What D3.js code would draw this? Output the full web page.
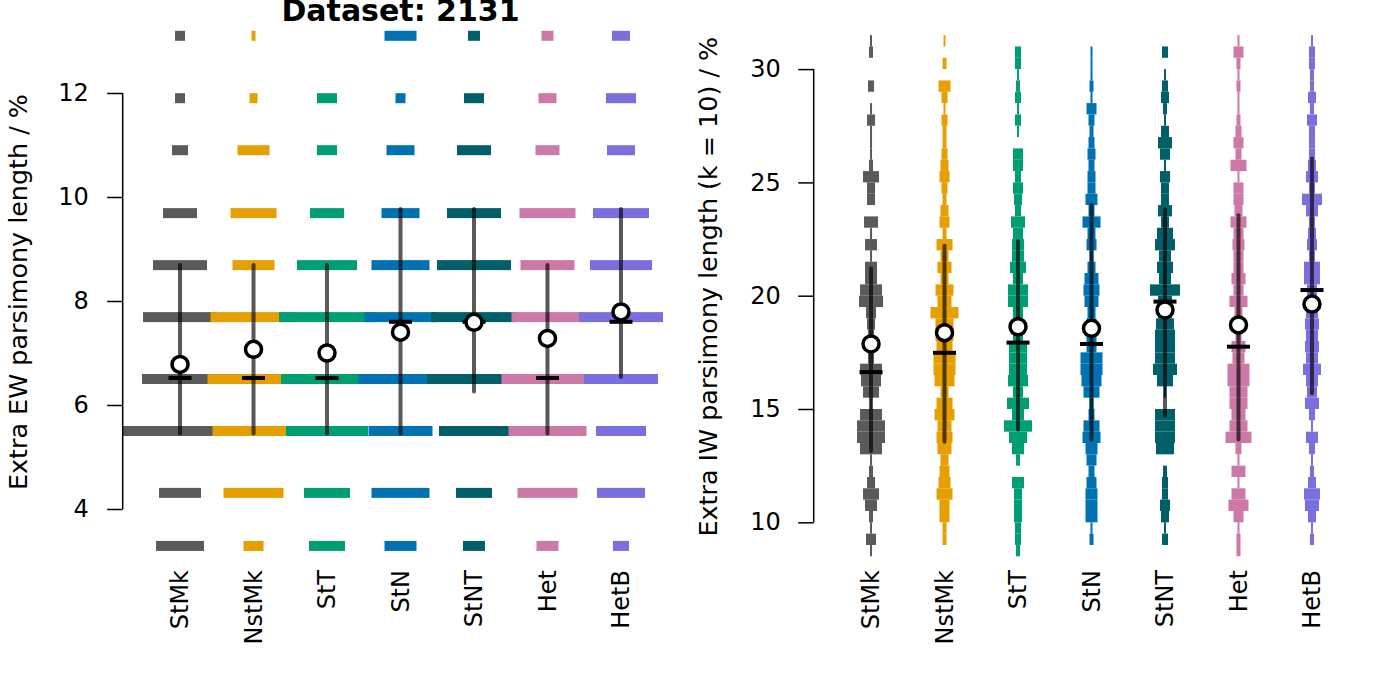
<!DOCTYPE html>
<html><head><meta charset="utf-8">
<script src="https://cdn.jsdelivr.net/npm/d3@7"></script>
<style>html,body{margin:0;padding:0;background:#fff;}svg{display:block;font-family:"DejaVu Sans",sans-serif;}</style>
</head><body>
<svg id="chart" width="1382" height="691"></svg>
<script>
// ---------- categories & colours ----------
const groups = ["StMk","NstMk","StT","StN","StNT","Het","HetB"];
const colors = ["#5a5a5a","#e69f00","#009e73","#0072b2","#005f69","#cc79a7","#7b6fdf"];

// ---------- left panel (EW) ----------
const ewValues = [3.29, 4.31, 5.5, 6.5, 7.69, 8.69, 9.69, 10.9, 11.9, 13.1];
const ewStMk  = [24, 21, 60, 38, 37, 27, 17, 8, 5, 5];
const ewNstMk = [10, 30, 41, 46, 43, 21, 23, 16, 4, 2];
const ewStT   = [18, 23, 41, 46, 48, 30, 17, 10, 10, 0];
const ewStN   = [16, 29, 32, 42, 36, 29, 19, 14, 5, 16];
const ewStNT  = [11, 18, 35, 47, 43, 37, 27, 17, 10, 6];
const ewHet   = [11, 30, 39, 46, 36, 27, 28, 12, 9, 6];
const ewHetB  = [8, 24, 25, 37, 42, 31, 28, 14, 15, 9];
const ewLow    = [5.45, 5.45, 5.45, 5.45, 6.26, 5.45, 6.54];
const ewHigh   = [8.69, 8.69, 8.69, 9.77, 9.77, 8.69, 9.77];
const ewMedian = [6.52, 6.52, 6.52, 7.60, 7.60, 6.52, 7.60];
const ewMean   = [6.78, 7.07, 7.00, 7.40, 7.59, 7.28, 7.79];
const ewTicks  = [4, 6, 8, 10, 12];

// ---------- right panel (IW, k = 10) ----------
const iwBins = [8.5,9,9.5,10,10.5,11,11.5,12,12.5,13,13.5,14,14.5,15,15.5,16,16.5,17,17.5,18,18.5,19,19.5,20,20.5,21,21.5,22,22.5,23,23.5,24,24.5,25,25.5,26,26.5,27,27.5,28,28.5,29,29.5,30,30.5,31];
const iwBinWidth = 0.5;
const iwStMk  = [1,5,1,2,6,8,4,2,1,11,14,14,11,1,8,10,11,3,3,3,4,5,12,11,6,6,1,6,1,7,0,4,4,8,2,1,1,1,4,1,0,3,0,0,2,1];
const iwNstMk = [0,2,2,5,5,8,6,5,4,7,8,7,10,8,4,10,11,11,8,9,9,14,7,9,4,7,4,8,2,5,4,2,3,5,4,3,2,2,3,1,3,6,0,2,0,1];
const iwStT   = [2,3,3,4,4,4,6,0,2,6,9,14,6,11,5,10,9,9,9,5,5,5,10,10,5,8,6,6,5,7,3,4,5,3,5,5,0,1,3,1,3,2,1,3,3,0];
const iwStN   = [0,2,1,6,6,6,5,3,5,6,9,8,3,2,8,10,11,11,5,5,5,4,7,8,7,4,2,5,4,9,3,6,4,4,3,4,3,2,3,5,1,2,1,1,1,0];
const iwStNT  = [0,3,1,4,5,3,3,2,0,9,10,10,10,0,1,8,12,10,10,10,9,7,7,15,6,8,6,10,8,4,7,4,4,5,1,5,7,4,1,2,4,3,1,0,3,0];
const iwHet   = [2,2,1,5,10,7,1,7,1,3,13,9,7,9,9,11,11,6,7,3,2,4,9,5,7,5,5,6,5,8,4,5,5,1,8,3,5,3,2,1,1,2,1,2,5,1];
const iwHetB  = [0,2,1,4,7,8,4,2,1,3,6,1,3,7,5,6,9,6,7,6,7,6,5,5,8,8,3,5,4,3,6,10,3,6,4,3,3,3,5,2,4,2,2,3,3,1];
const iwLow    = [13.15, 13.55, 14.10, 13.65, 14.70, 13.65, 15.70];
const iwHigh   = [21.20, 22.20, 22.40, 24.00, 23.80, 23.55, 26.05];
const iwMedian = [16.63, 17.48, 17.93, 17.87, 19.74, 17.75, 20.25];
const iwMean   = [17.87, 18.37, 18.63, 18.56, 19.37, 18.71, 19.63];
const iwTicks  = [10, 15, 20, 25, 30];

const ewCounts = [ewStMk, ewNstMk, ewStT, ewStN, ewStNT, ewHet, ewHetB];
const iwCounts = [iwStMk, iwNstMk, iwStT, iwStN, iwStNT, iwHet, iwHetB];

// ---------- layout ----------
const svg = d3.select("#chart");
svg.append("rect").attr("width",1382).attr("height",691).attr("fill","#fff");
const FONT = 24, TITLEF = 25.4;

const xDomain = [0.22, 7.78];
const panels = [
  {x: d3.scaleLinear().domain(xDomain).range([122.7, 678.3]),
   y: d3.scaleLinear().domain([4, 12]).range([509, 93]),
   ticks: ewTicks, label: "Extra EW parsimony length / %", labelX: 27, axisLo: 4, axisHi: 12, pad: 18.5},
  {x: d3.scaleLinear().domain(xDomain).range([813.7, 1369.3]),
   y: d3.scaleLinear().domain([10, 30]).range([522.3, 69.1]),
   ticks: iwTicks, label: "Extra IW parsimony length (k = 10) / %", labelX: 717, axisLo: 10, axisHi: 30, pad: 17.5}
];
// half-width (px) per count
const halfWidth = d3.scaleLinear().domain([0, 1]).range([0, 1]);

// clip for left panel
const defs = svg.append("defs");
defs.append("clipPath").attr("id","clipL").append("rect")
  .attr("x", panels[0].x.range()[0]).attr("y", 0)
  .attr("width", panels[0].x.range()[1]-panels[0].x.range()[0]).attr("height", 691);

// ---------- left: bars ----------
{
  const P = panels[0];
  const g = svg.append("g").attr("clip-path","url(#clipL)");
  groups.forEach((grp, gi) => {
    const cx = P.x(gi+1);
    g.append("g").selectAll("rect")
      .data(ewValues.map((v,i)=>({v, c: ewCounts[gi][i]})).filter(d=>d.c>0))
      .join("rect")
      .attr("x", d => cx - halfWidth(d.c))
      .attr("width", d => 2*halfWidth(d.c))
      .attr("y", d => P.y(d.v) - 5)
      .attr("height", 10)
      .attr("fill", colors[gi]);
  });
  const s = svg.append("g");
  groups.forEach((grp, gi) => {
    const cx = P.x(gi+1);
    s.append("line").attr("x1",cx).attr("x2",cx)
      .attr("y1",P.y(ewLow[gi])).attr("y2",P.y(ewHigh[gi]))
      .attr("stroke","#000").attr("stroke-opacity",0.65).attr("stroke-width",4).attr("stroke-linecap","round");
  });
  groups.forEach((grp, gi) => {
    const cx = P.x(gi+1);
    s.append("line").attr("x1",cx-11.5).attr("x2",cx+11.5)
      .attr("y1",P.y(ewMedian[gi])).attr("y2",P.y(ewMedian[gi]))
      .attr("stroke","#000").attr("stroke-width",4);
    s.append("circle").attr("cx",cx).attr("cy",P.y(ewMean[gi])).attr("r",8)
      .attr("fill","#fff").attr("stroke","#000").attr("stroke-width",3.5);
  });
}

// ---------- right: binned violins ----------
{
  const P = panels[1];
  const g = svg.append("g");
  groups.forEach((grp, gi) => {
    const cx = P.x(gi+1);
    g.append("g").selectAll("rect")
      .data(iwBins.map((b,i)=>({b, c: iwCounts[gi][i]})).filter(d=>d.c>0))
      .join("rect")
      .attr("x", d => cx - halfWidth(d.c))
      .attr("width", d => 2*halfWidth(d.c))
      .attr("y", d => P.y(d.b + iwBinWidth))
      .attr("height", d => P.y(d.b) - P.y(d.b + iwBinWidth))
      .attr("fill", colors[gi]);
  });
  const s = svg.append("g");
  groups.forEach((grp, gi) => {
    const cx = P.x(gi+1);
    s.append("line").attr("x1",cx).attr("x2",cx)
      .attr("y1",P.y(iwLow[gi])).attr("y2",P.y(iwHigh[gi]))
      .attr("stroke","#000").attr("stroke-opacity",0.65).attr("stroke-width",4).attr("stroke-linecap","round");
  });
  groups.forEach((grp, gi) => {
    const cx = P.x(gi+1);
    s.append("line").attr("x1",cx-11.5).attr("x2",cx+11.5)
      .attr("y1",P.y(iwMedian[gi])).attr("y2",P.y(iwMedian[gi]))
      .attr("stroke","#000").attr("stroke-width",4);
    s.append("circle").attr("cx",cx).attr("cy",P.y(iwMean[gi])).attr("r",8)
      .attr("fill","#fff").attr("stroke","#000").attr("stroke-width",3.5);
  });
}

// ---------- axes ----------
panels.forEach(P => {
  const ax = P.x.range()[0];
  const g = svg.append("g").attr("transform",`translate(${ax},0)`);
  const axis = d3.axisLeft(P.y).tickValues(P.ticks).tickSize(15.5).tickPadding(P.pad).tickSizeOuter(0);
  g.call(axis);
  g.select(".domain").attr("d", `M0,${P.y(P.axisLo)}V${P.y(P.axisHi)}`).attr("stroke","#000").attr("stroke-width",1.5);
  g.selectAll(".tick line").attr("stroke","#000").attr("stroke-width",1.5);
  g.selectAll(".tick text").attr("font-size",FONT).attr("font-family","DejaVu Sans").attr("fill","#000");
  const xa = svg.append("g");
  groups.forEach((grp, gi) => {
    xa.append("text")
      .attr("transform",`translate(${P.x(gi+1)},570) rotate(-90)`)
      .attr("text-anchor","end").attr("dy","0.35em")
      .attr("font-size",FONT).attr("fill","#000").text(grp);
  });
  svg.append("text")
    .attr("transform",`translate(${P.labelX},${(P.y(P.axisLo)+P.y(P.axisHi))/2 - 9}) rotate(-90)`)
    .attr("text-anchor","middle").attr("font-size",TITLEF).attr("fill","#000").text(P.label);
});

// ---------- title ----------
svg.append("text").attr("x", (panels[0].x.range()[0]+panels[0].x.range()[1])/2).attr("y", 20.5)
  .attr("text-anchor","middle").attr("font-weight","bold").attr("font-size",30).attr("fill","#000")
  .text("Dataset: 2131");
</script>
</body></html>
